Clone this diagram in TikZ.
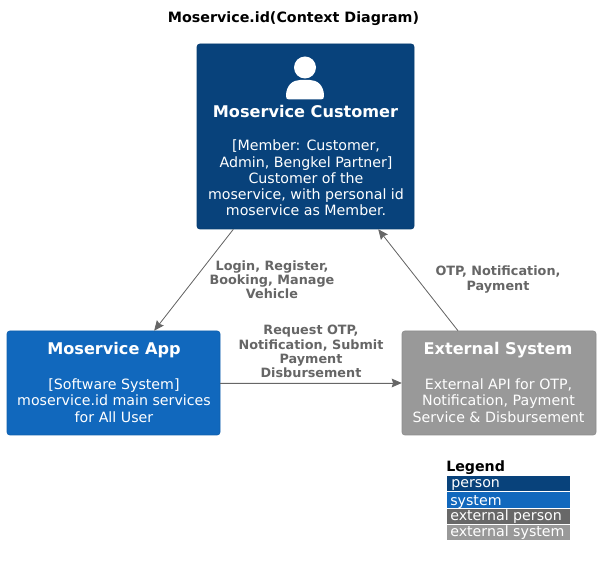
\documentclass[tikz,border=0pt]{standalone}
\usepackage{fontspec}
\setmainfont{DejaVu Sans}
\usetikzlibrary{arrows.meta, shapes.geometric}

\begin{document}
\begin{tikzpicture}[x=0.75pt, y=-0.75pt]
    % Define colors and styles
    \definecolor{personblue}{HTML}{08427B}
    \definecolor{systemblue}{HTML}{1168BD}
    \definecolor{extgrey}{HTML}{999999}
    \definecolor{extpersongrey}{HTML}{686868}
    \definecolor{linegrey}{HTML}{666666}
    \tikzstyle{box} = [rectangle, rounded corners=2pt, inner sep=0pt, draw=#1!92!black, line width=0.4pt, fill=#1]
    \tikzstyle{boxtitle} = [inner sep=0pt, text=white, font=\fontsize{12.1}{14}\selectfont\bfseries]
    \tikzstyle{boxtext} = [inner sep=0pt, text=white, align=center, font=\fontsize{10.65}{12.2}\selectfont]
    \tikzstyle{rel} = [-{Stealth[length=7.5pt, width=6.5pt, inset=1pt]}, draw=linegrey, fill=linegrey, line width=0.6pt]
    \tikzstyle{rellabel} = [inner sep=0pt, text=linegrey, align=center, font=\fontsize{9.6}{10.6}\selectfont\bfseries]
    \tikzstyle{legendrow} = [rectangle, inner sep=0pt, minimum width=92.25pt, fill=#1]
    \tikzstyle{legendtext} = [inner sep=0pt, anchor=base west, text=white, font=\fontsize{10.65}{12}\selectfont]

    % Page size
    \useasboundingbox (0,0) rectangle (600,566);

    % Title
    \node[inner sep=0pt, font=\fontsize{10.7}{12}\selectfont\bfseries] (title) at (293.5,19) {Moservice.id(Context Diagram)};

    % Boxes
    \node[box=personblue, minimum width=162.75pt, minimum height=138.75pt] (customer) at (305.5,136.5) {};
    \node[box=systemblue, minimum width=159.75pt, minimum height=78pt] (app) at (113.5,383) {};
    \node[box=extgrey, minimum width=145.5pt, minimum height=78pt] (external) at (499,383) {};

    % Person icon
    \fill[white] (305,67.5) circle (11);
    \fill[white] (286,96) .. controls (286,85) and (293,80) .. (300,80) -- (310,80) .. controls (317,80) and (324,85) .. (324,96) .. controls (324,98.5) and (323,99.5) .. (321,99.5) -- (289,99.5) .. controls (287,99.5) and (286,98.5) .. (286,96) -- cycle;

    % Box texts
    \node[boxtitle] (customertitle) at (305.5,111) {Moservice Customer};
    \node[boxtext] (customertext) at (306,178) {[Member: Customer,\\Admin, Bengkel Partner]\\Customer of the\\moservice, with personal id\\moservice as Member.};
    \node[boxtitle] (apptitle) at (114,350) {Moservice App};
    \node[boxtext] (apptext) at (114,400.5) {[Software System]\\moservice.id main services\\for All User};
    \node[boxtitle] (externaltitle) at (498,350) {External System};
    \node[boxtext] (externaltext) at (498.5,400.5) {External API for OTP,\\Notification, Payment\\Service \& Disbursement};

    % Connections
    \draw[rel] (customer) -- (app);
    \draw[rel] (app) -- (external);
    \draw[rel] (external) -- (customer);

    % Connection labels
    \node[rellabel] (loginlabel) at (272,279.5) {Login, Register,\\Booking, Manage\\Vehicle};
    \node[rellabel] (otplabel) at (311,351.5) {Request OTP,\\Notification, Submit\\Payment\\Disbursement};
    \node[rellabel] (notiflabel) at (498,279.5) {OTP, Notification,\\Payment};

    % Legend
    \node[inner sep=0pt, anchor=base west, font=\fontsize{10.65}{12}\selectfont\bfseries] (legend) at (446,472) {Legend};
    \node[legendrow=personblue, minimum height=11.25pt] (lperson) at (508.5,483.5) {};
    \node[legendrow=systemblue, minimum height=12pt] (lsystem) at (508.5,500) {};
    \node[legendrow=extpersongrey, minimum height=11.25pt] (lextperson) at (508.5,516.5) {};
    \node[legendrow=extgrey, minimum height=11.25pt] (lextsystem) at (508.5,532.5) {};
    \node[legendtext] at (451,488) {person};
    \node[legendtext] at (450,505) {system};
    \node[legendtext] at (450,521) {external person};
    \node[legendtext] at (450,537) {external system};
\end{tikzpicture}
\end{document}
